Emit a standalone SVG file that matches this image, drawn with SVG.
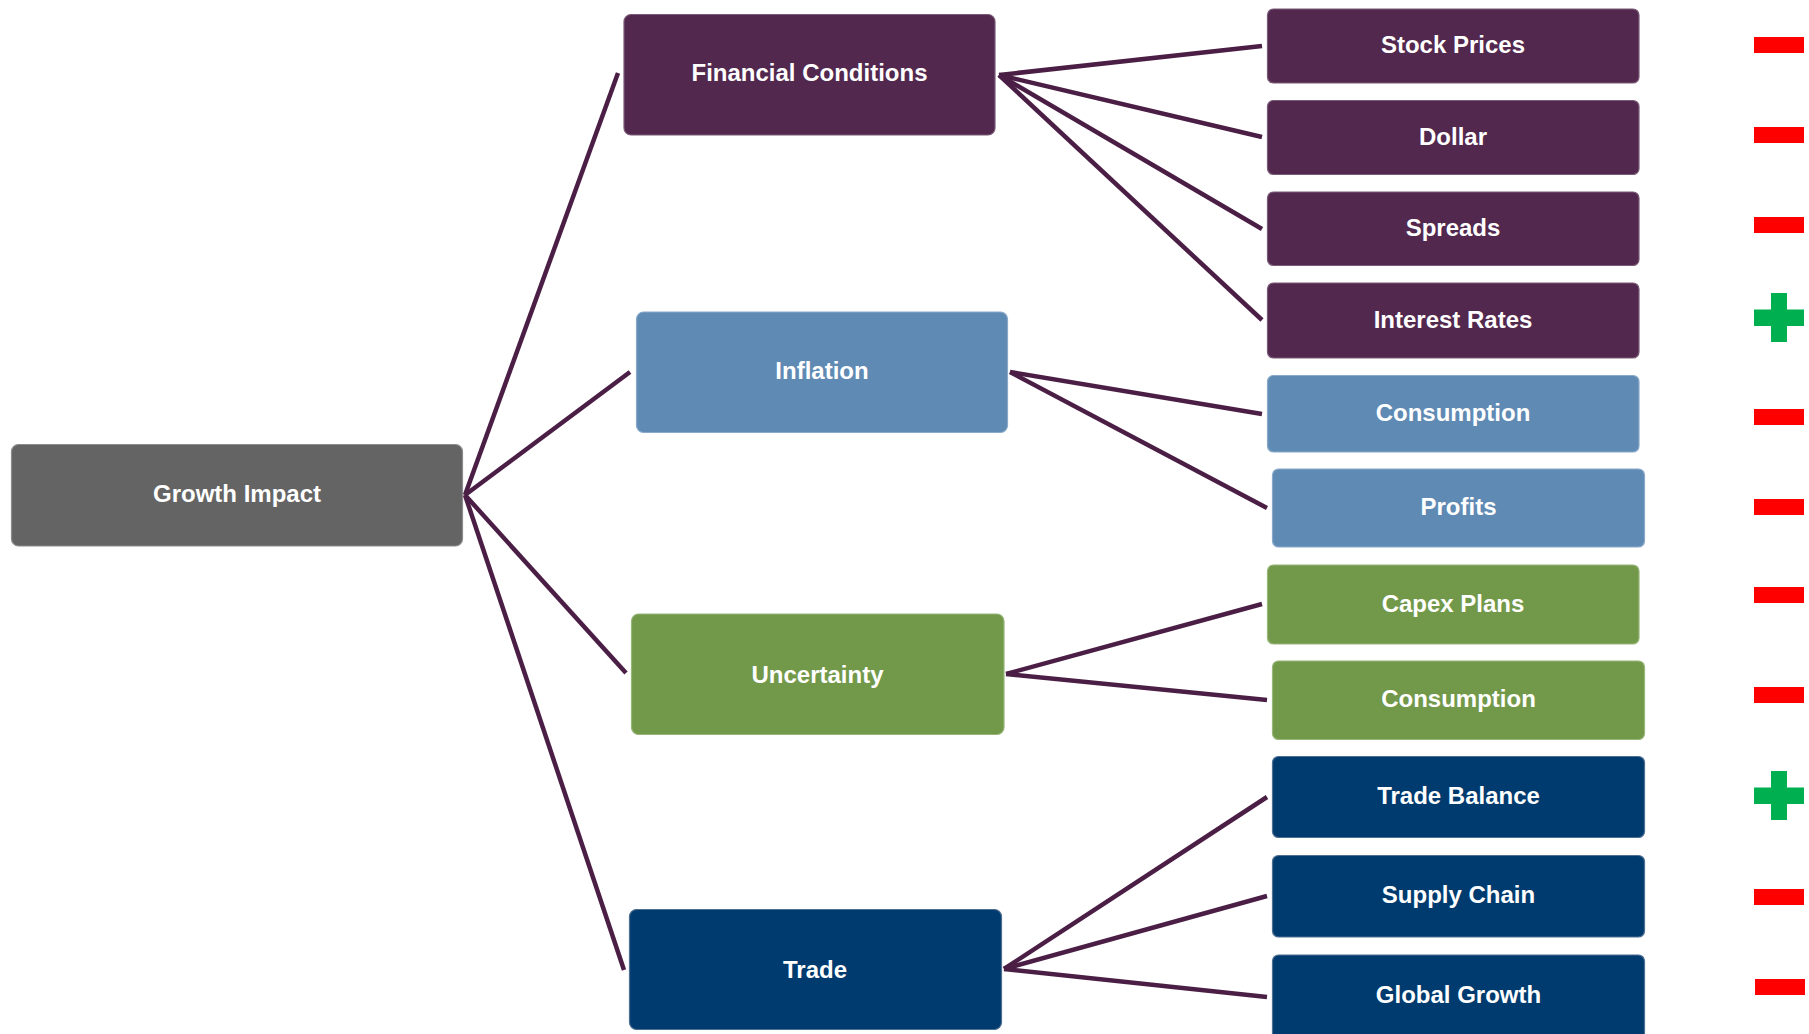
<svg xmlns="http://www.w3.org/2000/svg" width="1809" height="1034" viewBox="0 0 1809 1034">
  <style>
    .box { stroke-width: 1.2; }
    .lbl { font-family: "Liberation Sans", Arial, sans-serif; font-weight: bold; font-size: 24px; fill: #ffffff; text-anchor: middle; }
    .purple { fill: #52284E; stroke: #7a5a77; }
    .blue { fill: #5F8AB4; stroke: #8aa9c9; }
    .green { fill: #72994A; stroke: #98b57a; }
    .navy { fill: #003B6F; stroke: #4f6f91; }
    .gray { fill: #646464; stroke: #8c8c8c; }
    .link { stroke: #4B1F45; stroke-width: 4.5; fill: none; stroke-linecap: butt; }
    .neg { fill: #FF0000; }
    .pos { fill: #00B050; }
  </style>
  <defs>
    <g id="minus"><rect x="0" y="0" width="50" height="16" class="neg"/></g>
    <g id="plus">
      <rect x="0" y="16.5" width="50" height="16.5" class="pos"/>
      <rect x="17" y="0" width="16" height="49" class="pos"/>
    </g>
  </defs>
  <rect width="1809" height="1034" fill="#ffffff"/>

  <!-- connectors -->
  <g id="connectors">
    <line class="link" x1="465" y1="495" x2="618" y2="73"/>
    <line class="link" x1="465" y1="495" x2="630" y2="372"/>
    <line class="link" x1="465" y1="495" x2="626" y2="673"/>
    <line class="link" x1="465" y1="495" x2="624" y2="970"/>

    <line class="link" x1="999" y1="75" x2="1262" y2="46"/>
    <line class="link" x1="999" y1="75" x2="1262" y2="137"/>
    <line class="link" x1="999" y1="75" x2="1262" y2="229"/>
    <line class="link" x1="999" y1="75" x2="1262" y2="320"/>

    <line class="link" x1="1010" y1="372" x2="1262" y2="414"/>
    <line class="link" x1="1010" y1="372" x2="1267" y2="508"/>

    <line class="link" x1="1006" y1="674" x2="1262" y2="604"/>
    <line class="link" x1="1006" y1="674" x2="1267" y2="700"/>

    <line class="link" x1="1004" y1="969" x2="1267" y2="797"/>
    <line class="link" x1="1004" y1="969" x2="1267" y2="896"/>
    <line class="link" x1="1004" y1="969" x2="1267" y2="997"/>
  </g>

  <!-- root -->
  <g id="growth-impact">
    <rect class="box gray" x="11.5" y="444.5" width="451" height="101.5" rx="7"/>
    <text class="lbl" x="237" y="502">Growth Impact</text>
  </g>

  <!-- drivers -->
  <g id="financial-conditions">
    <rect class="box purple" x="624" y="14.5" width="371" height="120.5" rx="7"/>
    <text class="lbl" x="809.5" y="81">Financial Conditions</text>
  </g>
  <g id="inflation">
    <rect class="box blue" x="636.5" y="312" width="371" height="120.5" rx="7"/>
    <text class="lbl" x="822" y="379">Inflation</text>
  </g>
  <g id="uncertainty">
    <rect class="box green" x="631.5" y="614" width="372.5" height="120.5" rx="7"/>
    <text class="lbl" x="817.5" y="682.5">Uncertainty</text>
  </g>
  <g id="trade">
    <rect class="box navy" x="629.5" y="909.5" width="372" height="120" rx="7"/>
    <text class="lbl" x="815" y="977.5">Trade</text>
  </g>

  <!-- channels -->
  <g id="stock-prices">
    <rect class="box purple" x="1267.5" y="9" width="371.5" height="74" rx="6"/>
    <text class="lbl" x="1453" y="52.5">Stock Prices</text>
  </g>
  <g id="dollar">
    <rect class="box purple" x="1267.5" y="100.5" width="371.5" height="74" rx="6"/>
    <text class="lbl" x="1453" y="145">Dollar</text>
  </g>
  <g id="spreads">
    <rect class="box purple" x="1267.5" y="192" width="371.5" height="73.5" rx="6"/>
    <text class="lbl" x="1453" y="236">Spreads</text>
  </g>
  <g id="interest-rates">
    <rect class="box purple" x="1267.5" y="283" width="371.5" height="75" rx="6"/>
    <text class="lbl" x="1453" y="327.5">Interest Rates</text>
  </g>
  <g id="consumption-inflation">
    <rect class="box blue" x="1267.5" y="375.5" width="371.5" height="76.5" rx="6"/>
    <text class="lbl" x="1453" y="420.5">Consumption</text>
  </g>
  <g id="profits">
    <rect class="box blue" x="1272.5" y="469" width="372" height="78" rx="6"/>
    <text class="lbl" x="1458.5" y="514.5">Profits</text>
  </g>
  <g id="capex-plans">
    <rect class="box green" x="1267.5" y="565" width="371.5" height="79" rx="6"/>
    <text class="lbl" x="1453" y="611.5">Capex Plans</text>
  </g>
  <g id="consumption-uncertainty">
    <rect class="box green" x="1272.5" y="661" width="372" height="78.5" rx="6"/>
    <text class="lbl" x="1458.5" y="707">Consumption</text>
  </g>
  <g id="trade-balance">
    <rect class="box navy" x="1272.5" y="756.5" width="372" height="81" rx="6"/>
    <text class="lbl" x="1458.5" y="804">Trade Balance</text>
  </g>
  <g id="supply-chain">
    <rect class="box navy" x="1272.5" y="855.5" width="372" height="81.5" rx="6"/>
    <text class="lbl" x="1458.5" y="903">Supply Chain</text>
  </g>
  <g id="global-growth">
    <rect class="box navy" x="1272.5" y="955" width="372" height="90" rx="6"/>
    <text class="lbl" x="1458.5" y="1002.5">Global Growth</text>
  </g>

  <!-- effect signs -->
  <g id="signs">
    <use href="#minus" x="1754" y="37"/>
    <use href="#minus" x="1754" y="127"/>
    <use href="#minus" x="1754" y="217"/>
    <use href="#plus" x="1754" y="293"/>
    <use href="#minus" x="1754" y="409"/>
    <use href="#minus" x="1754" y="499"/>
    <use href="#minus" x="1754" y="587"/>
    <use href="#minus" x="1754" y="687"/>
    <use href="#plus" x="1754" y="771"/>
    <use href="#minus" x="1754" y="889"/>
    <use href="#minus" x="1755" y="979"/>
  </g>
</svg>
